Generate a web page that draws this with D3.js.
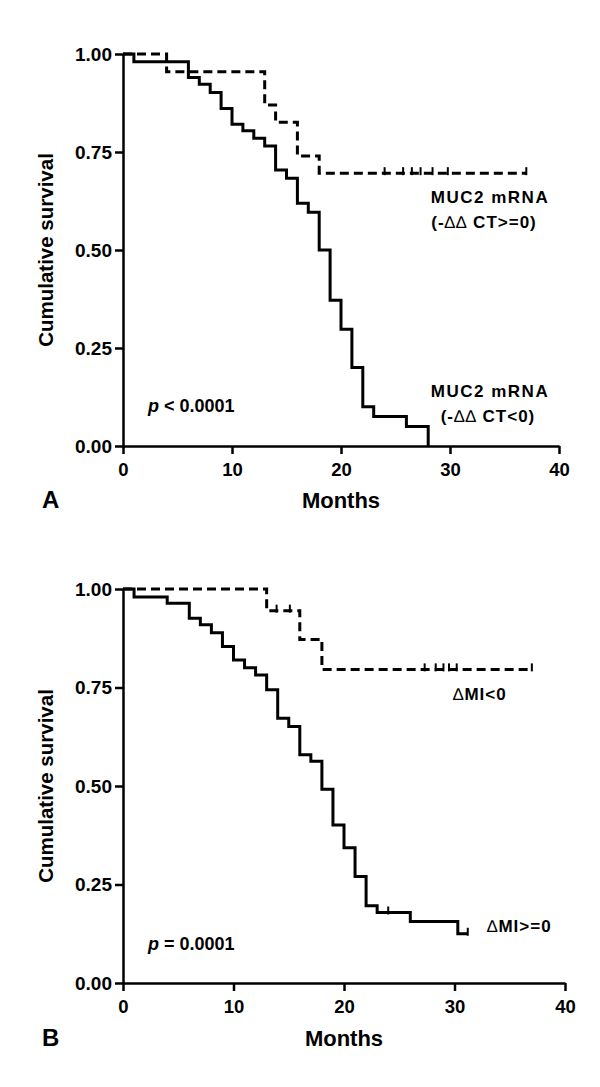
<!DOCTYPE html>
<html>
<head>
<meta charset="utf-8">
<script src="https://cdn.jsdelivr.net/npm/d3@7/dist/d3.min.js"></script>
<style>
  html, body { margin: 0; padding: 0; background: #fff; }
  svg { display: block; }
  text { font-family: "Liberation Sans", Arial, sans-serif; font-weight: bold; fill: #000; }
</style>
</head>
<body>
<svg id="chart" width="600" height="1087"></svg>
<script>
// ---------- data ----------
const monthTicks = [0, 10, 20, 30, 40];
const survivalTicks = [0, 0.25, 0.5, 0.75, 1];

// Panel A: MUC2 mRNA (-ΔΔCT<0)  (solid)
const aLowTimes = [0, 1, 6, 7, 8, 9, 10, 11, 12, 13, 14, 15, 16, 17, 18, 19, 20, 21, 22, 23, 26, 28];
const aLowSurv  = [1, 0.98, 0.94, 0.923, 0.902, 0.861, 0.821, 0.804, 0.785, 0.765, 0.704, 0.683, 0.619, 0.596, 0.5, 0.372, 0.298, 0.2, 0.1, 0.075, 0.05, 0];
const aLowCensor = [];
const aLowEnd = 28;

// Panel A: MUC2 mRNA (-ΔΔCT>=0)  (dashed)
const aHighTimes = [0, 4, 13, 14, 16, 18];
const aHighSurv  = [1, 0.955, 0.87, 0.826, 0.74, 0.696];
const aHighCensor = [24, 25.7, 26.5, 27.3, 28.4, 29.8, 37];
const aHighEnd = 37;

// Panel B: ΔMI>=0 (solid)
const bLowTimes = [0, 1, 4, 6, 7, 8, 9, 10, 11, 12, 13, 14, 15, 16, 17, 18, 19, 20, 21, 22, 23, 26, 30.3];
const bLowSurv  = [1, 0.98, 0.964, 0.926, 0.909, 0.889, 0.854, 0.82, 0.8, 0.782, 0.744, 0.672, 0.651, 0.579, 0.563, 0.492, 0.401, 0.343, 0.27, 0.196, 0.179, 0.156, 0.125];
const bLowCensor = [24, 31.2];
const bLowEnd = 31.2;

// Panel B: ΔMI<0 (dashed)
const bHighTimes = [0, 13, 16, 18];
const bHighSurv  = [1, 0.945, 0.872, 0.796];
const bHighCensor = [13.9, 15.1, 27.3, 28.3, 29, 29.5, 30.2, 37];
const bHighEnd = 37;

// ---------- drawing ----------
const svg = d3.select("#chart");

function survAt(times, surv, t) {
  let s = surv[0];
  for (let i = 0; i < times.length; i++) if (times[i] <= t) s = surv[i];
  return s;
}

function drawPanel(cfg) {
  const x = d3.scaleLinear().domain([0, 40]).range([cfg.x0, cfg.x1]);
  const y = d3.scaleLinear().domain([0, 1]).range([cfg.yBottom, cfg.yTop]);
  const g = svg.append("g");

  // axes
  const yAxis = d3.axisLeft(y).tickValues(survivalTicks).tickFormat(d3.format(".2f"))
    .tickSize(8).tickSizeOuter(0).tickPadding(3);
  const xAxis = d3.axisBottom(x).tickValues(monthTicks).tickFormat(d3.format("d"))
    .tickSize(8).tickSizeOuter(0).tickPadding(9);

  const gy = g.append("g").attr("transform", `translate(${cfg.x0},0)`).call(yAxis);
  const gx = g.append("g").attr("transform", `translate(0,${cfg.yBottom})`).call(xAxis);
  [gy, gx].forEach(a => {
    a.selectAll("path.domain").attr("stroke", "#000").attr("stroke-width", 2.5);
    a.selectAll(".tick line").attr("stroke", "#000").attr("stroke-width", 2.5);
    a.selectAll(".tick text").attr("fill", "#000")
      .style("font-family", '"Liberation Sans", Arial, sans-serif')
      .style("font-weight", "bold");
  });
  gy.selectAll(".tick text").style("font-size", "19px");
  gx.selectAll(".tick text").style("font-size", "18.5px");

  // axis titles
  g.append("text")
    .attr("transform", `translate(${cfg.yTitleX},${(cfg.yTop + cfg.yBottom) / 2}) rotate(-90)`)
    .attr("text-anchor", "middle").attr("dominant-baseline", "middle")
    .style("font-size", "20.5px").text("Cumulative survival");
  g.append("text")
    .attr("x", (cfg.x0 + cfg.x1) / 2).attr("y", cfg.monthsY)
    .attr("text-anchor", "middle").style("font-size", "22px").text("Months");
  g.append("text")
    .attr("x", 42).attr("y", cfg.monthsY)
    .style("font-size", "24px").text(cfg.letter);

  // curves
  const line = d3.line().x(d => x(d[0])).y(d => y(d[1])).curve(d3.curveStepAfter);
  cfg.curves.forEach(c => {
    const pts = c.times.map((t, i) => [t, c.surv[i]]);
    pts.push([c.end, c.surv[c.surv.length - 1]]);
    g.append("path").datum(pts)
      .attr("d", line).attr("fill", "none").attr("stroke", "#000")
      .attr("stroke-width", 3).attr("stroke-linejoin", "miter")
      .attr("stroke-dasharray", c.dashed ? "9,5" : null);
    g.selectAll(null).data(c.censor).enter().append("line")
      .attr("x1", d => x(d)).attr("x2", d => x(d))
      .attr("y1", d => y(survAt(c.times, c.surv, d)) - 6)
      .attr("y2", d => y(survAt(c.times, c.surv, d)) + 2)
      .attr("stroke", "#000").attr("stroke-width", 2);
  });

  // p value
  const pt = g.append("text").attr("x", 148).attr("y", cfg.pY).style("font-size", "18px");
  pt.append("tspan").style("font-style", "italic").text("p");
  pt.append("tspan").text(cfg.pText);

  // curve labels
  cfg.labels.forEach(l => {
    const t = g.append("text").attr("x", l.x).attr("y", l.y)
      .attr("text-anchor", l.anchor || "start")
      .style("font-size", "17px").style("letter-spacing", l.ls || "0px");
    l.parts.forEach(p => {
      t.append("tspan").style("font-weight", p.thin ? "normal" : "bold").text(p.s);
    });
  });
}

drawPanel({
  x0: 123, x1: 559, yTop: 54, yBottom: 446, yTitleX: 48, monthsY: 508, letter: "A",
  pY: 412, pText: " < 0.0001",
  curves: [
    { times: aLowTimes, surv: aLowSurv, censor: aLowCensor, end: aLowEnd, dashed: false },
    { times: aHighTimes, surv: aHighSurv, censor: aHighCensor, end: aHighEnd, dashed: true }
  ],
  labels: [
    { x: 490, y: 203, anchor: "middle", ls: "1.5px", parts: [{ s: "MUC2 mRNA" }] },
    { x: 484, y: 228, anchor: "middle", ls: "1px", parts: [{ s: "(-" }, { s: "\u2206\u2206", thin: true }, { s: " CT>=0)" }] },
    { x: 490, y: 397, anchor: "middle", ls: "1.5px", parts: [{ s: "MUC2 mRNA" }] },
    { x: 488, y: 422, anchor: "middle", ls: "1px", parts: [{ s: "(-" }, { s: "\u2206\u2206", thin: true }, { s: " CT<0)" }] }
  ]
});

drawPanel({
  x0: 123, x1: 565, yTop: 589, yBottom: 983, yTitleX: 48, monthsY: 1046, letter: "B",
  pY: 950, pText: " = 0.0001",
  curves: [
    { times: bLowTimes, surv: bLowSurv, censor: bLowCensor, end: bLowEnd, dashed: false },
    { times: bHighTimes, surv: bHighSurv, censor: bHighCensor, end: bHighEnd, dashed: true }
  ],
  labels: [
    { x: 453, y: 700, ls: "1px", parts: [{ s: "\u2206", thin: true }, { s: "MI<0" }] },
    { x: 487, y: 932, ls: "1px", parts: [{ s: "\u2206", thin: true }, { s: "MI>=0" }] }
  ]
});
</script>
</body>
</html>
